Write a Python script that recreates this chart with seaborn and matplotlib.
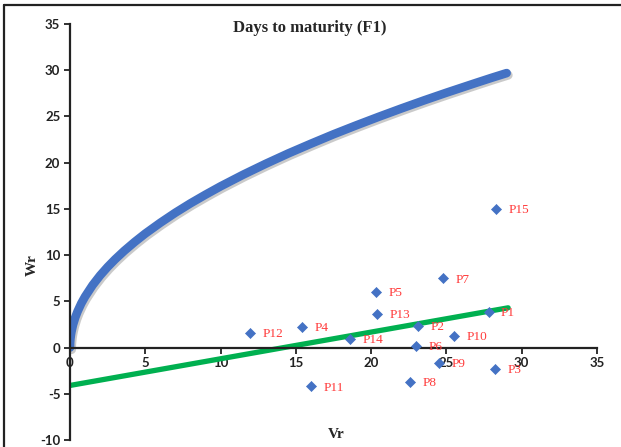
import matplotlib
matplotlib.use("Agg")
import matplotlib.pyplot as plt
import seaborn as sns
import pandas as pd
from matplotlib.lines import Line2D

# Parents (Vr, Wr)
labels = ["P1", "P2", "P3", "P4", "P5", "P6", "P7", "P8", "P9", "P10",
          "P11", "P12", "P13", "P14", "P15"]
vr = [27.8, 23.1, 28.2, 15.4, 20.3, 23.0, 24.8, 22.6, 24.5, 25.5,
      16.0, 11.95, 20.4, 18.6, 28.3]
wr = [3.86, 2.38, -2.3, 2.27, 6.03, 0.18, 7.5, -3.7, -1.62, 1.26,
      -4.18, 1.59, 3.68, 0.97, 15.04]

# Limiting parabola
parab_vr = [0, 0.01, 0.03, 0.06, 0.1, 0.2, 0.35, 0.5, 0.75, 1, 1.5, 2, 2.5, 3,
            3.6, 4.3, 5, 6, 7, 8, 9, 10, 11.5, 13, 14.5, 16, 17.5, 19, 20.5,
            22, 23.5, 25, 26, 27, 28, 29]
parab_wr = [0, 0.55, 0.95, 1.35, 1.74, 2.47, 3.26, 3.9, 4.78, 5.51, 6.75,
            7.8, 8.72, 9.55, 10.46, 11.43, 12.33, 13.5, 14.59, 15.6, 16.54,
            17.44, 18.7, 19.88, 21.0, 22.05, 23.07, 24.03, 24.96, 25.86,
            26.73, 27.57, 28.11, 28.65, 29.18, 29.69]

# Regression line
reg_vr = [0, 29.1]
reg_wr = [-4.1, 4.3]

sns.set_theme(style="white")
plt.rcParams["font.family"] = ["DejaVu Sans"]
plt.rcParams["axes.unicode_minus"] = False

fig = plt.figure(figsize=(6.21, 4.47), dpi=100)
ax = fig.add_axes([70 / 621, 7 / 447, 527 / 621, 416 / 447])

blue = "#4472C4"
# shadow of the parabola
sns.lineplot(x=[v + 0.1 for v in parab_vr], y=[w - 0.22 for w in parab_wr],
             ax=ax, color="#a0a0a0", lw=6.5, alpha=0.55,
             solid_capstyle="round", solid_joinstyle="round", sort=False)
sns.lineplot(x=parab_vr, y=parab_wr, ax=ax, color=blue, lw=6.2,
             solid_capstyle="round", solid_joinstyle="round", sort=False)
sns.lineplot(x=reg_vr, y=reg_wr, ax=ax, color="#00B050", lw=3.8,
             solid_capstyle="round", sort=False)

df = pd.DataFrame({"Vr": vr, "Wr": wr, "label": labels})
sns.scatterplot(data=df, x="Vr", y="Wr", ax=ax, marker="D", s=26,
                color=blue, edgecolor=blue, linewidth=0.5, zorder=5)

for x, y, t in zip(vr, wr, labels):
    ax.annotate(t, (x, y), xytext=(9, -1), textcoords="offset points",
                color="#FF3B3B", fontsize=9.5, family="Liberation Serif",
                va="center", ha="left")

ax.set_xlim(0, 35)
ax.set_ylim(-10, 35)
ax.set_xticks(range(0, 36, 5))
ax.set_yticks(range(-10, 36, 5))

for s in ["top", "right"]:
    ax.spines[s].set_visible(False)
ax.spines["left"].set_position(("data", 0))
ax.spines["bottom"].set_position(("data", 0))
for s in ["left", "bottom"]:
    ax.spines[s].set_color("#222222")
    ax.spines[s].set_linewidth(1.6)

ax.tick_params(axis="both", which="major", direction="out", length=4,
               width=1.3, color="#222222", labelsize=9.5, pad=3,
               left=True, bottom=True)
for lab in ax.get_xticklabels() + ax.get_yticklabels():
    lab.set_fontweight("bold")
    lab.set_family("Lato")
    lab.set_color("#222222")

ax.set_xlabel("")
ax.set_ylabel("")
fig.text(336 / 621, 1 - 435 / 447, "Vr", ha="center", va="center",
         family="Liberation Serif", fontweight="bold", fontsize=11)
fig.text(32 / 621, 1 - 265 / 447, "Wr", ha="center", va="center",
         rotation=90, family="Liberation Serif", fontweight="bold",
         fontsize=11)
fig.text(310 / 621, 1 - 28 / 447, "Days to maturity (F1)", ha="center",
         va="center", family="Liberation Serif", fontweight="bold",
         fontsize=12)

# chart-area frame (left and top edges)
fig.add_artist(Line2D([4 / 621, 4 / 621], [0, 1 - 5 / 447],
                      transform=fig.transFigure, color="#222222", lw=1.6))
fig.add_artist(Line2D([4 / 621, 1], [1 - 5 / 447, 1 - 5 / 447],
                      transform=fig.transFigure, color="#222222", lw=1.6))

fig.savefig("out.png", dpi=100)
